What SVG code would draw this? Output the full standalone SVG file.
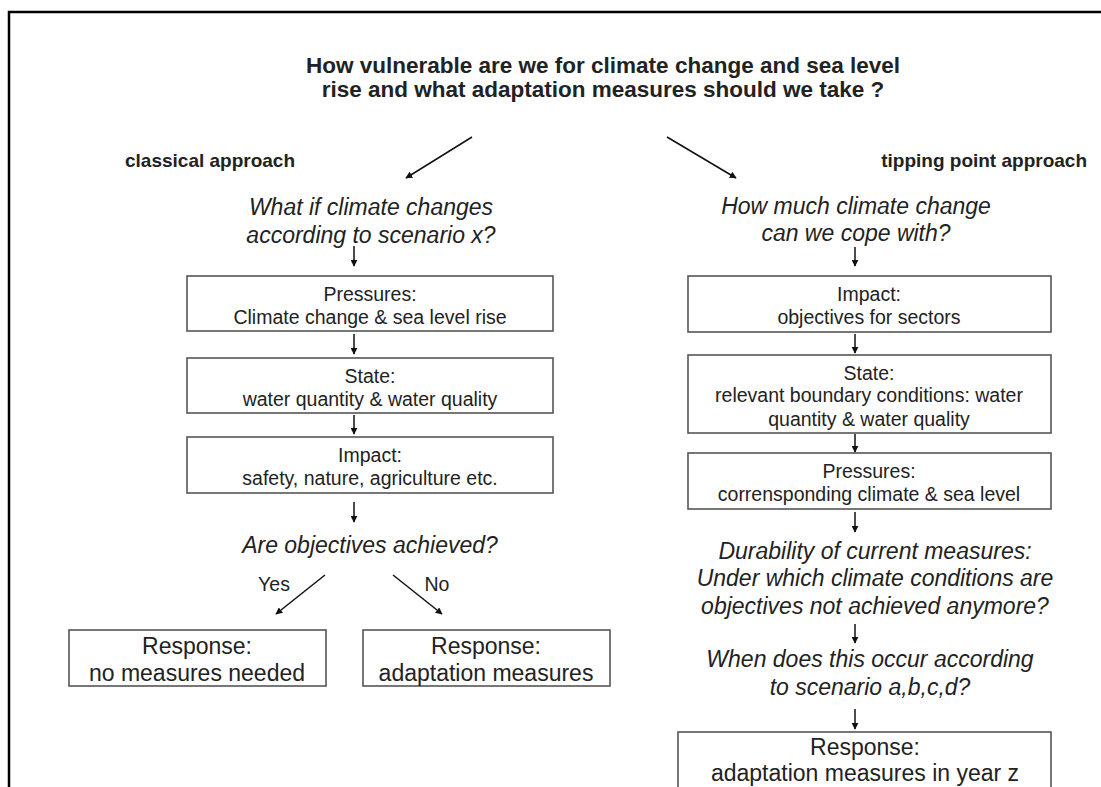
<svg xmlns="http://www.w3.org/2000/svg" width="1101" height="787" viewBox="0 0 1101 787">
<defs>
<marker id="ah" viewBox="0 0 10 10" refX="9" refY="5" markerWidth="7" markerHeight="7" markerUnits="userSpaceOnUse" orient="auto">
<path d="M0,0 L10,5 L0,10 Z" fill="#111"/>
</marker>
<style>
.t{font-family:"Liberation Sans",Arial,sans-serif;fill:#222;text-anchor:middle}
.b{font-weight:bold;font-size:22.5px}
.h{font-weight:bold;font-size:19px;text-anchor:start}
.i{font-style:italic;font-size:23px}
.n{font-size:19.5px}
.r{font-size:23px}
.box{fill:#fff;stroke:#555;stroke-width:1.6}
.c{stroke:#111;stroke-width:1.5;fill:none;marker-end:url(#ah)}
</style>
</defs>
<rect x="0" y="0" width="1101" height="787" fill="#fff"/>
<path d="M9,800 L9,12 L1110,12" fill="none" stroke="#000" stroke-width="2.5"/>
<g id="title">
<text class="t b" x="603" y="73">How vulnerable are we for climate change and sea level</text>
<text class="t b" x="603" y="97">rise and what adaptation measures should we take ?</text>
</g>
<g id="label-classical"><text class="t h" x="125" y="167">classical approach</text></g>
<g id="label-tipping"><text class="t h" x="1087" y="167" style="text-anchor:end">tipping point approach</text></g>
<g id="q-left">
<text class="t i" x="371" y="215">What if climate changes</text>
<text class="t i" x="371" y="243">according to scenario x?</text>
</g>
<g id="pressures-left">
<rect class="box" x="187" y="276" width="366" height="55"/>
<text class="t n" x="370" y="301">Pressures:</text>
<text class="t n" x="370" y="324">Climate change &amp; sea level rise</text>
</g>
<g id="state-left">
<rect class="box" x="187" y="358" width="366" height="55"/>
<text class="t n" x="370" y="383">State:</text>
<text class="t n" x="370" y="406">water quantity &amp; water quality</text>
</g>
<g id="impact-left">
<rect class="box" x="187" y="437" width="366" height="56"/>
<text class="t n" x="370" y="462">Impact:</text>
<text class="t n" x="370" y="485">safety, nature, agriculture etc.</text>
</g>
<g id="q-objectives">
<text class="t i" x="370" y="553">Are objectives achieved?</text>
</g>
<g id="label-yes"><text class="t n" x="274" y="591">Yes</text></g>
<g id="label-no"><text class="t n" x="437" y="591">No</text></g>
<g id="response-none">
<rect class="box" x="69" y="630" width="257" height="56"/>
<text class="t r" x="197" y="654">Response:</text>
<text class="t r" x="197" y="681">no measures needed</text>
</g>
<g id="response-adapt">
<rect class="box" x="363" y="630" width="247" height="56"/>
<text class="t r" x="486" y="654">Response:</text>
<text class="t r" x="486" y="681">adaptation measures</text>
</g>
<g id="q-right">
<text class="t i" x="856" y="214">How much climate change</text>
<text class="t i" x="856" y="241">can we cope with?</text>
</g>
<g id="impact-right">
<rect class="box" x="688" y="276" width="363" height="56"/>
<text class="t n" x="869" y="301">Impact:</text>
<text class="t n" x="869" y="324">objectives for sectors</text>
</g>
<g id="state-right">
<rect class="box" x="688" y="355" width="363" height="78"/>
<text class="t n" x="869" y="380">State:</text>
<text class="t n" x="869" y="402">relevant boundary conditions: water</text>
<text class="t n" x="869" y="426">quantity &amp; water quality</text>
</g>
<g id="pressures-right">
<rect class="box" x="688" y="453" width="363" height="56"/>
<text class="t n" x="869" y="478">Pressures:</text>
<text class="t n" x="869" y="501">corrensponding climate &amp; sea level</text>
</g>
<g id="q-durability">
<text class="t i" x="875" y="559">Durability of current measures:</text>
<text class="t i" x="875" y="586">Under which climate conditions are</text>
<text class="t i" x="875" y="614">objectives not achieved anymore?</text>
</g>
<g id="q-when">
<text class="t i" x="870" y="667">When does this occur according</text>
<text class="t i" x="870" y="695">to scenario a,b,c,d?</text>
</g>
<g id="response-year">
<rect class="box" x="678" y="732" width="373" height="70"/>
<text class="t r" x="865" y="755">Response:</text>
<text class="t r" x="865" y="781">adaptation measures in year z</text>
</g>
<g id="connectors">
<line class="c" x1="472" y1="137" x2="406" y2="178"/>
<line class="c" x1="667" y1="137" x2="736" y2="178"/>
<line class="c" x1="354" y1="246" x2="354" y2="266"/>
<line class="c" x1="354" y1="334" x2="354" y2="354"/>
<line class="c" x1="354" y1="415" x2="354" y2="434"/>
<line class="c" x1="354" y1="502" x2="354" y2="522"/>
<line class="c" x1="325" y1="575" x2="276" y2="614"/>
<line class="c" x1="393" y1="575" x2="442" y2="614"/>
<line class="c" x1="855" y1="247" x2="855" y2="266"/>
<line class="c" x1="855" y1="334" x2="855" y2="353"/>
<line class="c" x1="855" y1="434" x2="855" y2="452"/>
<line class="c" x1="855" y1="512" x2="855" y2="532"/>
<line class="c" x1="855" y1="624" x2="855" y2="643"/>
<line class="c" x1="855" y1="709" x2="855" y2="729"/>
</g>
</svg>
